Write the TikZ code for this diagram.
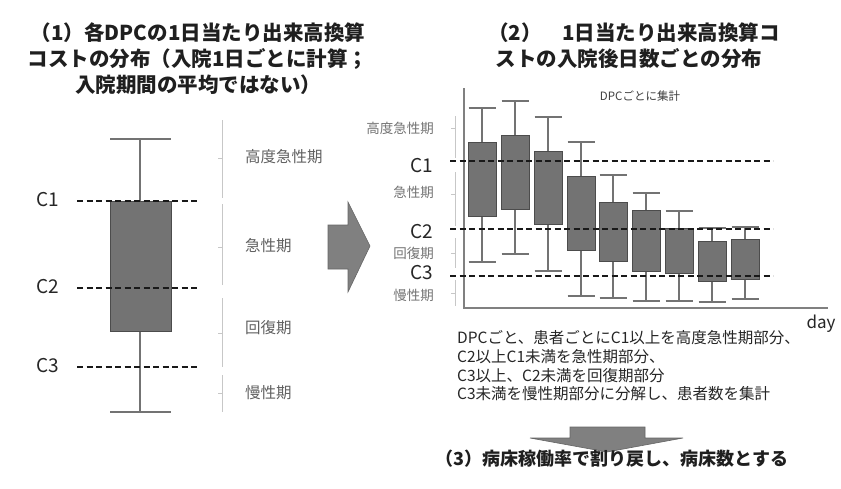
\documentclass[tikz,border=0pt]{standalone}
\usepackage{fontspec}
\setmainfont{Noto Sans CJK JP}
\newfontfamily\cjk{Noto Sans CJK JP}
\begin{document}
\begin{tikzpicture}[x=1pt,y=-1pt,
  title/.style={font=\cjk\bfseries\fontsize{20.5}{24}\selectfont, text=black!88, inner sep=0pt},
  phase/.style={font=\cjk\fontsize{15.5}{18}\selectfont, text=black!62, inner sep=0pt, anchor=west},
  phasesm/.style={font=\cjk\fontsize{13.5}{16}\selectfont, text=black!55, inner sep=0pt, anchor=east},
  clab/.style={font=\cjk\fontsize{19}{22}\selectfont, text=black!85, inner sep=0pt},
  body/.style={font=\cjk\fontsize{15.5}{18}\selectfont, text=black!85, inner sep=0pt, anchor=west},
  cut/.style={dashed, dash pattern=on 6pt off 3.5pt, line width=1.9pt, black!90},
  whisk/.style={line width=1.2pt, black!55},
  rwhisk/.style={line width=1.8pt, black!55},
  boxf/.style={fill=black!55, draw=black!70, line width=0.8pt},
  brace/.style={line width=0.7pt, black!22},
  bigarrow/.style={fill=black!50, draw=black!60, line width=0.6pt}
]
\useasboundingbox[fill=white] (0,0) rectangle (841,488);

% ---------- titles ----------
\node[title] (t1a) at (198,33) {（1）各DPCの1日当たり出来高換算};
\node[title] (t1b) at (198,59) {コストの分布（入院1日ごとに計算；};
\node[title] (t1c) at (198,85) {入院期間の平均ではない）};
\node[title] (t2a) at (634,33) {（2）　1日当たり出来高換算コ};
\node[title] (t2b) at (629,59) {ストの入院後日数ごとの分布};

% ---------- left box plot ----------
\draw[whisk] (140,139) -- (140,412);
\draw[whisk] (110,139) -- (171,139);
\draw[whisk] (110,412) -- (171,412);
\draw[boxf] (110,201) rectangle (171,331);
\coordinate (l1a) at (77,201); \coordinate (l1b) at (197,201);
\coordinate (l2a) at (77,288); \coordinate (l2b) at (197,288);
\coordinate (l3a) at (77,367); \coordinate (l3b) at (197,367);
\draw[cut] (l1a) -- (l1b);
\draw[cut] (l2a) -- (l2b);
\draw[cut] (l3a) -- (l3b);
\node[clab] (lc1) at (48,200) {C1};
\node[clab] (lc2) at (48,287) {C2};
\node[clab] (lc3) at (48,366) {C3};

% braces
\draw[brace] (222,120) -- (222,198) (222,158) -- (218,158);
\draw[brace] (222,204) -- (222,285) (222,247) -- (218,247);
\draw[brace] (222,298) -- (222,367) (222,333) -- (218,333);
\draw[brace] (222,375) -- (222,412) (222,393) -- (218,393);
\node[phase] (p1) at (245,157) {高度急性期};
\node[phase] (p2) at (245,246) {急性期};
\node[phase] (p3) at (245,328) {回復期};
\node[phase] (p4) at (245,393) {慢性期};

% ---------- right arrow ----------
\draw[bigarrow] (328,225) -- (348,225) -- (348,202) -- (370,246) -- (348,292) -- (348,269) -- (328,269) -- cycle;

% ---------- right chart ----------
\draw[brace] (455,116) -- (455,158) (455,128) -- (451,128);
\draw[brace] (455,172) -- (455,226) (455,194) -- (451,194);
\draw[brace] (455,238) -- (455,268) (455,253) -- (451,253);
\draw[brace] (455,280) -- (455,306) (455,293) -- (451,293);
\draw[line width=1.3pt, black!50] (464,88) -- (464,308) -- (828,308);

\foreach \c/\bt/\bb/\wt/\wb in {482/142.7/216.7/108.3/261.7, 515/135/209.3/100.7/254,
  548/151.7/224.3/116.7/270.7, 581/176.7/250.7/142/295.7, 613/202.7/261.7/175/298.3,
  646/210.7/271/193.3/300.7, 679/228.3/273.3/211/300.7, 712/241/281/228.3/301.7,
  745/239/279.3/226.7/299.3}{
  \draw[rwhisk] (\c,\wt) -- (\c,\wb);
  \draw[rwhisk] (\c-13.5,\wt) -- (\c+13.5,\wt);
  \draw[rwhisk] (\c-13.5,\wb) -- (\c+13.5,\wb);
  \draw[boxf] (\c-14,\bt) rectangle (\c+14,\bb);
}
\coordinate (r1a) at (450,161); \coordinate (r1b) at (773,161);
\coordinate (r2a) at (450,229); \coordinate (r2b) at (773,229);
\coordinate (r3a) at (450,276); \coordinate (r3b) at (773,276);
\draw[cut] (r1a) -- (r1b);
\draw[cut] (r2a) -- (r2b);
\draw[cut] (r3a) -- (r3b);

\node[phasesm] (q1) at (434,128) {高度急性期};
\node[clab, anchor=east] (rc1) at (433,166) {C1};
\node[phasesm] (q2) at (434,192) {急性期};
\node[clab, anchor=east] (rc2) at (433,232) {C2};
\node[phasesm] (q3) at (434,253) {回復期};
\node[clab, anchor=east] (rc3) at (433,273) {C3};
\node[phasesm] (q4) at (434,295) {慢性期};

\node[font=\cjk\fontsize{11.5}{14}\selectfont, text=black!75, inner sep=0pt] (dpc) at (640,96) {DPCごとに集計};
\node[font=\cjk\fontsize{17}{20}\selectfont, text=black!85, inner sep=0pt] (day) at (821,324) {day};

% ---------- explanation ----------
\node[body] (e1) at (457,338) {DPCごと、患者ごとにC1以上を高度急性期部分、};
\node[body] (e2) at (457,357) {C2以上C1未満を急性期部分、};
\node[body] (e3) at (457,376) {C3以上、C2未満を回復期部分};
\node[body] (e4) at (457,394) {C3未満を慢性期部分に分解し、患者数を集計};

% ---------- down arrow ----------
\draw[bigarrow] (570,427) -- (645,427) -- (645,438) -- (683,438) -- (607,452) -- (530,438) -- (570,438) -- cycle;

\node[title, font=\cjk\bfseries\fontsize{18}{21}\selectfont] (t3) at (612,459) {（3）病床稼働率で割り戻し、病床数とする};
\end{tikzpicture}
\end{document}
